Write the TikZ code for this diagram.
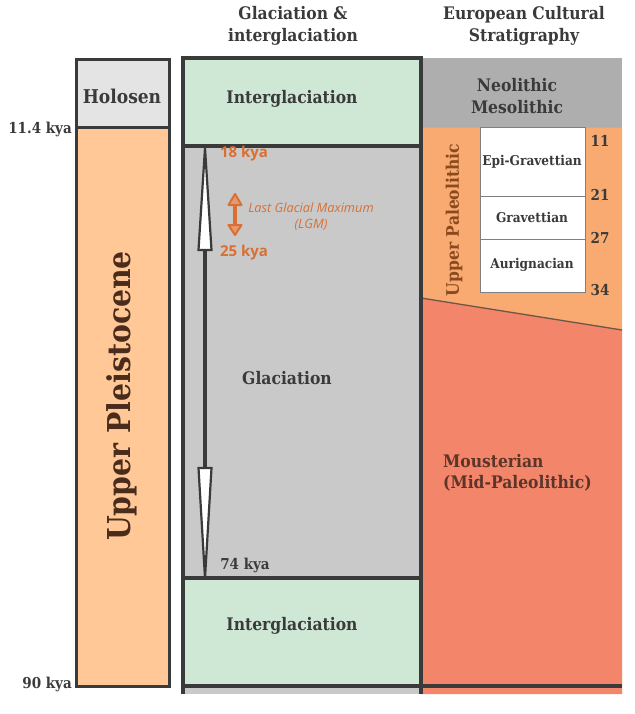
\documentclass[tikz,border=0pt]{standalone}
\usepackage{fontspec}
\setmainfont{DejaVu Serif Condensed}
\newfontfamily\osans{Open Sans}
\usetikzlibrary{calc}
\definecolor{bord}{HTML}{3A3A3A}
\definecolor{igreen}{HTML}{CFE7D5}
\definecolor{glgray}{HTML}{C9C9C9}
\definecolor{holgray}{HTML}{E4E4E4}
\definecolor{pleist}{HTML}{FFC896}
\definecolor{upor}{HTML}{F8AA70}
\definecolor{mred}{HTML}{F2856A}
\definecolor{neogray}{HTML}{AEAEAE}
\definecolor{lgmor}{HTML}{D96F33}
\definecolor{txt}{HTML}{3A3A3A}
\definecolor{pltxt}{HTML}{4A2C1C}
\definecolor{uptxt}{HTML}{8A4A1E}
\definecolor{moustxt}{HTML}{5C3528}
\tikzset{
  lab/.style={font=\bfseries\fontsize{17.3}{21.5}\selectfont, text=txt, inner sep=0pt, align=center},
  kya/.style={font=\bfseries\fontsize{15}{17}\selectfont, text=txt, inner sep=0pt},
  small/.style={font=\bfseries\fontsize{13.5}{16}\selectfont, text=txt, inner sep=0pt},
  orlab/.style={font=\osans\bfseries\fontsize{15}{17}\selectfont, text=lgmor, inner sep=0pt},
  orit/.style={font=\osans\itshape\fontsize{12.8}{16}\selectfont, text=lgmor, inner sep=0pt, align=center},
  frame/.style={draw=bord, line width=3.5pt},
}
\begin{document}
\begin{tikzpicture}[x=1pt,y=-1pt]
\useasboundingbox (0,0) rectangle (634,714);
% ---------- left column
\fill[holgray] (76,60) rectangle (169,128);
\fill[pleist] (76,128) rectangle (169,686);
\draw[bord, line width=3pt] (76,60) rectangle (169,686);
\draw[bord, line width=3pt] (76,128) -- (169,128);
% ---------- middle column
\fill[igreen] (183,58) rectangle (421,146);
\fill[glgray] (183,146) rectangle (421,578);
\fill[igreen] (183,578) rectangle (421,686);
\fill[glgray] (183,686) rectangle (421,694);
% ---------- right column
\fill[neogray] (421,58) rectangle (622,128);
\fill[upor] (421,128) -- (622,128) -- (622,330) -- (421,298) -- cycle;
\fill[mred] (421,298) -- (622,330) -- (622,694) -- (421,694) -- cycle;
\draw[gray!60, line width=1pt] (421,128) -- (622,128);
\draw[pltxt!80, line width=1.3pt] (421,298) -- (622,330);
\draw[bord, line width=3.5pt] (421,686) -- (622,686);
% middle frame
\draw[frame] (183,694) -- (183,58) -- (421,58) -- (421,694);
\draw[frame] (183,146) -- (421,146);
\draw[frame] (183,578) -- (421,578);
\draw[frame] (183,686) -- (421,686);
% white boxes
\draw[gray, fill=white, line width=1pt] (480,128) rectangle (585,292);
\draw[gray, line width=1pt] (480,196) -- (585,196);
\draw[gray, line width=1pt] (480,239) -- (585,239);
% ---------- big black arrow
\coordinate (atop) at (205,148);
\coordinate (abot) at (205,578);
\draw[bord, line width=4pt] (205,250) -- (205,468);
\draw[bord, fill=white, line width=2.2pt, line join=miter] (atop) -- (211.5,250) -- (198.5,250) -- cycle;
\draw[bord, fill=white, line width=2.2pt, line join=miter] (abot) -- (211.5,468) -- (198.5,468) -- cycle;
% ---------- orange LGM arrow
\coordinate (lt) at (235,194);
\coordinate (lb) at (235,235);
\draw[lgmor, line width=3.5pt] (235,204) -- (235,226);
\draw[lgmor, fill=lgmor!70, line width=2pt, line join=round] (lt) -- (241.5,205) -- (228.5,205) -- cycle;
\draw[lgmor, fill=lgmor!70, line width=2pt, line join=round] (lb) -- (241.5,225) -- (228.5,225) -- cycle;
% ---------- texts
\node[lab] (h1) at (293,26) {Glaciation \&\\interglaciation};
\node[lab] (h2) at (524,26) {European Cultural\\Stratigraphy};
\node[lab, font=\bfseries\fontsize{19}{21}\selectfont] (holo) at (122,96) {Holosen};
\node[kya, anchor=east] (k114) at (72,129) {11.4 kya};
\node[kya, anchor=east] (k90) at (72,684) {90 kya};
\node[lab] (ig1) at (292,99) {Interglaciation};
\node[lab] (ig2) at (292,626) {Interglaciation};
\node[lab] (gl) at (287,378) {Glaciation};
\node[kya] (k74) at (245,565) {74 kya};
\node[orlab] (k18) at (244,154) {18 kya};
\node[orlab] (k25) at (244,253) {25 kya};
\node[orit] (lgm) at (311,217) {Last Glacial Maximum\\(LGM)};
\node[lab] (neo) at (517,96) {Neolithic\\Mesolithic};
\node[lab, text=uptxt, rotate=90] (upal) at (454,220) {Upper Paleolithic};
\node[small] (epi) at (532,162) {Epi-Gravettian};
\node[small] (grav) at (532,217) {Gravettian};
\node[small] (aur) at (532,265) {Aurignacian};
\node[kya] (n11) at (600,141) {11};
\node[kya] (n21) at (600,195) {21};
\node[kya] (n27) at (600,238) {27};
\node[kya] (n34) at (600,290) {34};
\node[lab, text=moustxt, anchor=west, align=left] (mous) at (443,473) {Mousterian\\(Mid-Paleolithic)};
\node[font=\bfseries\fontsize{31.5}{34}\selectfont, text=pltxt, rotate=90, inner sep=0pt] (upl) at (122,396) {Upper Pleistocene};
\end{tikzpicture}
\end{document}
